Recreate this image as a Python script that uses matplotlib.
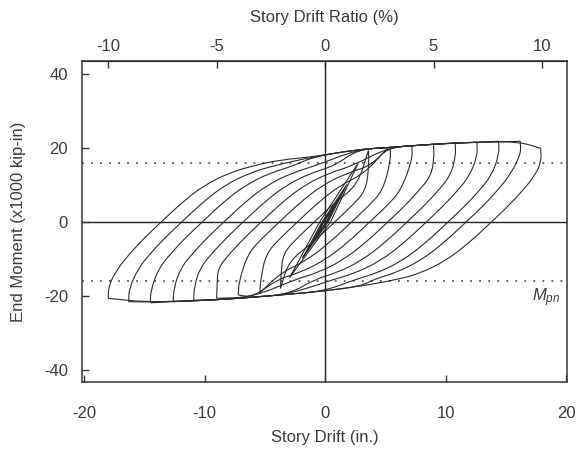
import matplotlib
matplotlib.use("Agg")
import matplotlib.pyplot as plt
from matplotlib.path import Path
from matplotlib.patches import PathPatch

plt.rcParams['font.family'] = ['Liberation Sans', 'DejaVu Sans']
plt.rcParams['axes.unicode_minus'] = False
plt.rcParams['mathtext.fontset'] = 'custom'
plt.rcParams['mathtext.it'] = 'Liberation Sans:italic'
plt.rcParams['mathtext.rm'] = 'Liberation Sans'

# cycles from 2% to 10% drift: drift in in., moment in 1000 kip-in
pos_drift = [3.6, 5.4, 7.2, 9.0, 10.8, 12.6, 14.4, 16.2, 17.9]
neg_drift = [-3.7, -5.4, -7.2, -9.0, -10.9, -12.6, -14.5, -16.3, -18.0]
pos_moment = [19.3, 20.2, 20.6, 21.0, 21.4, 21.6, 21.8, 21.8, 19.9]
neg_moment = [-17.9, -19.1, -19.7, -20.6, -21.1, -21.5, -21.8, -21.5, -20.6]
rise_zero = [-0.9, -2.3, -3.8, -5.3, -6.8, -8.4, -10.2, -11.9, -13.6]
fall_zero = [0.8, 2.2, 3.7, 5.2, 6.8, 8.4, 10.2, 11.7, 13.8]

rise_off = [-3.6, -2.6, -1.4, 0.0, 1.8, 3.6, 5.6, 7.6]
rise_m = [-12.5, -8.5, -4.3, 0.0, 5.5, 10.0, 13.2, 15.2]
fall_off = [3.6, 2.6, 1.4, 0.0, -1.8, -3.8, -5.9, -7.6]
fall_m = [12.5, 8.5, 4.3, 0.0, -5.5, -10.5, -13.8, -15.4]

# upper and lower envelopes
top_env_x = [-3.7, -1.0, 0.0, 2.7, 5.2, 8.0, 10.0, 13.0, 16.1]
top_env_m = [16.8, 17.6, 18.1, 19.6, 20.1, 20.8, 21.2, 21.6, 21.7]
bot_env_x = [6.2, 3.0, 0.0, -3.0, -6.0, -9.0, -12.0, -15.0, -17.0]
bot_env_m = [-15.2, -17.3, -18.6, -19.5, -20.3, -21.0, -21.4, -21.6, -21.3]

# elastic cycles, 0.375% to 1.5%
small_pos_drift = [0.7, 0.9, 1.35, 1.8, 2.75]
small_pos_moment = [3.8, 5.1, 7.6, 10.1, 15.9]
small_neg_drift = [-0.7, -0.9, -1.4, -1.85, -2.9]
small_neg_moment = [-3.6, -4.9, -7.3, -9.6, -14.8]
small_zero = [0.1, 0.12, 0.18, 0.25, 0.45]

mpn = 16.0
story_height = 180.0

line_color = '#2b2b2b'
text_color = '#3a3a3a'


def rising_branch(i):
    d0, m0 = neg_drift[i], neg_moment[i]
    d1, m1 = pos_drift[i], pos_moment[i]
    xs, ms = [d0, d0 + 0.05], [m0, m0 + 3.6]
    for o, m in zip(rise_off, rise_m):
        x = rise_zero[i] + o
        if xs[-1] < x < d1 - 0.2 and m < m1 - 3:
            xs.append(x)
            ms.append(m)
    for x, m in zip(top_env_x, top_env_m):
        if xs[-1] + 1.0 < x < d1 - 0.1 and m > ms[-1]:
            xs.append(x)
            ms.append(m)
    xs.append(d1)
    ms.append(m1)
    return xs, ms


def falling_branch(i):
    d0, m0 = neg_drift[i], neg_moment[i]
    d1, m1 = pos_drift[i], pos_moment[i]
    xs, ms = [d1, d1 + 0.05], [m1, m1 - 3.6]
    for o, m in zip(fall_off, fall_m):
        x = fall_zero[i] + o
        if d0 + 0.2 < x < xs[-1] and m > m0 + 3:
            xs.append(x)
            ms.append(m)
    for x, m in zip(bot_env_x, bot_env_m):
        if d0 + 0.1 < x < xs[-1] - 1.0 and m < ms[-1]:
            xs.append(x)
            ms.append(m)
    xs.append(d0)
    ms.append(m0)
    return xs, ms


def smooth_path(xs, ys):
    # quadratic b-spline over the read points, sharp at both ends
    pts = list(zip(xs, ys))
    mids = [((a[0] + b[0]) / 2, (a[1] + b[1]) / 2)
            for a, b in zip(pts[:-1], pts[1:])]
    verts = [pts[0], mids[0]]
    codes = [Path.MOVETO, Path.LINETO]
    for k in range(1, len(pts) - 1):
        verts += [pts[k], mids[k]]
        codes += [Path.CURVE3, Path.CURVE3]
    verts.append(pts[-1])
    codes.append(Path.LINETO)
    return Path(verts, codes)


fig = plt.figure(figsize=(5.77, 4.51), dpi=100)
ax = fig.add_axes([0.1421, 0.153, 0.8406, 0.7118])

ax.axhline(0, color='#222222', lw=1.0, zorder=1)
ax.axvline(0, color='#222222', lw=1.0, zorder=1)
ax.axhline(mpn, color='#555555', lw=1.3, ls=(0, (1, 4)), zorder=1)
ax.axhline(-mpn, color='#555555', lw=1.3, ls=(0, (1, 4)), zorder=1)

for d0, m0, d1, m1, c in zip(small_neg_drift, small_neg_moment,
                             small_pos_drift, small_pos_moment, small_zero):
    ax.plot([d0, -c, d1, c, d0], [m0, 0, m1, 0, m0],
            color=line_color, lw=0.8, zorder=2)

for i in range(len(pos_drift)):
    for xs, ms in (rising_branch(i), falling_branch(i)):
        ax.add_patch(PathPatch(smooth_path(xs, ms), fill=False,
                               edgecolor=line_color, lw=0.8, zorder=2))

ax.text(17.2, -20.3, r'$M_{pn}$', fontsize=12, color=text_color,
        ha='left', va='center')

ax.set_xlim(-20.17, 20.08)
ax.set_ylim(-43.2, 43.5)
ax.set_xticks([-20, -10, 0, 10, 20])
ax.set_yticks([-40, -20, 0, 20, 40])
ax.tick_params(axis='x', direction='in', length=5, width=1,
               colors='#333333', labelcolor=text_color, labelsize=12, pad=17)
ax.tick_params(axis='y', direction='in', length=5, width=1,
               colors='#333333', labelcolor=text_color, labelsize=12, pad=10)
for s in ax.spines.values():
    s.set_color('#333333')
    s.set_linewidth(1.1)

top = ax.secondary_xaxis('top', functions=(lambda x: x / story_height * 100,
                                             lambda r: r * story_height / 100))
top.set_xticks([-10, -5, 0, 5, 10])
top.tick_params(direction='in', length=5, width=1, colors='#333333',
                labelcolor=text_color, labelsize=12, pad=5)

fig.text(0.563, 0.03, 'Story Drift (in.)', ha='center', va='center',
         fontsize=12, color=text_color)
fig.text(0.563, 0.962, 'Story Drift Ratio (%)', ha='center', va='center',
         fontsize=12, color=text_color)
fig.text(0.032, 0.508, 'End Moment (x1000 kip-in)', ha='center', va='center',
         rotation=90, fontsize=12, color=text_color)

fig.savefig('out.png', dpi=100)
